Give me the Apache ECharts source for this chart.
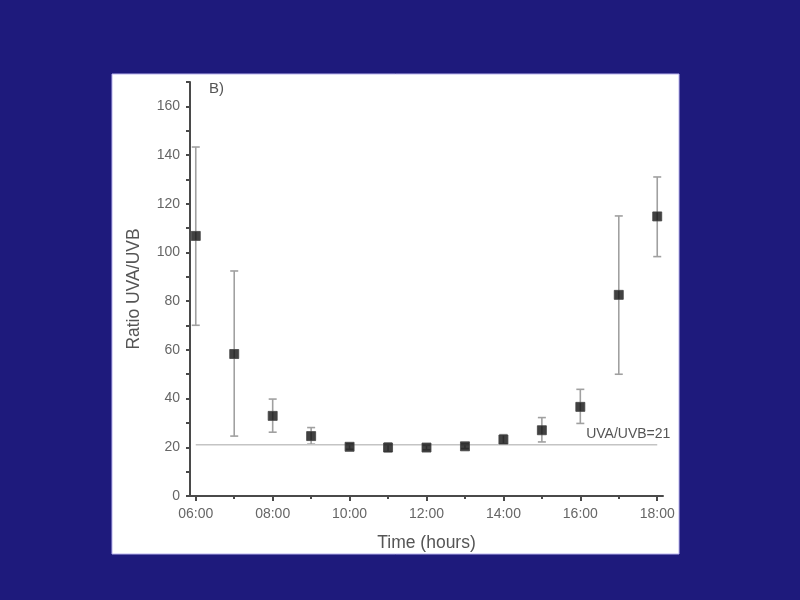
<!DOCTYPE html>
<html>
<head>
<meta charset="utf-8">
<script src="https://cdn.jsdelivr.net/npm/echarts@6/dist/echarts.min.js"></script>
<style>
html,body{margin:0;padding:0;background:#1e1a7c;}
#c{width:800px;height:600px;}
</style>
</head>
<body>
<div id="c"></div>
<script>
// ---- data ----
var hours = [6, 7, 8, 9, 10, 11, 12, 13, 14, 15, 16, 17, 18];
var ratio = [106.8, 58.3, 32.9, 24.6, 20.2, 19.9, 19.9, 20.4, 23.2, 27.0, 36.6, 82.6, 114.8];
var errLow = [70.1, 24.6, 26.2, 21.3, 19.2, 18.2, 19.0, 19.5, 21.4, 22.2, 29.8, 50.0, 98.3];
var errHigh = [143.3, 92.4, 39.8, 28.1, 21.4, 21.8, 20.8, 21.4, 25.2, 32.2, 43.8, 115.0, 131.0];
var xLabelHours = [6, 8, 10, 12, 14, 16, 18];
var xTickLabels = ['06:00', '08:00', '10:00', '12:00', '14:00', '16:00', '18:00'];
var xOddHours = [7, 9, 11, 13, 15, 17];
var yLabelValues = [0, 20, 40, 60, 80, 100, 120, 140, 160];
var yTickValues = [0, 10, 20, 30, 40, 50, 60, 70, 80, 90, 100, 110, 120, 130, 140, 150, 160, 170];
var refRatio = 21;
var refLineX = [6, 18];
var refLabel = 'UVA/UVB=21';

var chart = echarts.init(document.getElementById('c'));
var axisColor = '#4a4a4a';
var labelColor = '#666';
var font = 'Liberation Sans, Arial, sans-serif';

var points = hours.map(function (h, i) { return [h, ratio[i]]; });
var errData = hours.map(function (h, i) { return [h, errLow[i], errHigh[i]]; });
var refData = refLineX.map(function (x) { return [x, refRatio]; });

chart.setOption({
  backgroundColor: '#1e1a7c',
  animation: false,
  graphic: [
    { type: 'rect', shape: { x: 112, y: 74, width: 567, height: 480 },
      style: { fill: '#ffffff', stroke: '#b8b2ee', lineWidth: 1 }, z: -10 },
    { type: 'text', left: 209, top: 81,
      style: { text: 'B)', fill: '#555', font: '15px ' + font } }
  ],
  grid: { left: 190, right: 137, top: 82, bottom: 104 },
  xAxis: [{
    type: 'value', min: 5.85, max: 18.15,
    name: 'Time (hours)', nameLocation: 'middle', nameGap: 38,
    nameTextStyle: { color: '#555', fontSize: 17.5, fontFamily: font },
    axisLine: { show: true, onZero: false, lineStyle: { color: axisColor, width: 2 } },
    axisTick: { show: true, customValues: xLabelHours, length: 5, lineStyle: { color: axisColor, width: 2 } },
    axisLabel: { customValues: xLabelHours, color: labelColor, fontSize: 14, fontFamily: font, margin: 11,
      formatter: function (v) { var i = xLabelHours.indexOf(Math.round(v)); return i >= 0 ? xTickLabels[i] : ''; } },
    splitLine: { show: false }
  }, {
    type: 'value', min: 5.85, max: 18.15, position: 'bottom',
    axisLine: { show: false },
    axisTick: { show: true, customValues: xOddHours, length: 3, lineStyle: { color: axisColor, width: 2 } },
    axisLabel: { show: false },
    splitLine: { show: false }
  }],
  yAxis: {
    type: 'value', min: 0, max: 170,
    name: 'Ratio UVA/UVB', nameLocation: 'middle', nameGap: 47,
    nameTextStyle: { color: '#555', fontSize: 17.5, fontFamily: font },
    axisLine: { show: true, lineStyle: { color: axisColor, width: 2 } },
    axisTick: { show: true, customValues: yTickValues, length: 4, lineStyle: { color: axisColor, width: 2 } },
    axisLabel: { customValues: yLabelValues, color: labelColor, fontSize: 14, fontFamily: font, margin: 10 },
    splitLine: { show: false }
  },
  series: [
    {
      type: 'line', data: refData, symbol: 'none', silent: true,
      lineStyle: { color: '#c4c4c4', width: 1.5 },
      label: { show: false },
      markPoint: {
        symbol: 'circle', symbolSize: 0,
        data: [{ coord: [refLineX[1], refRatio], value: refLabel }],
        label: { show: true, position: 'top', distance: 4, offset: [-29, 0],
          formatter: refLabel, color: '#555', fontSize: 14, fontFamily: font }
      }
    },
    {
      type: 'custom', data: errData, silent: true, z: 3,
      renderItem: function (params, api) {
        var x = api.value(0);
        var lo = api.coord([x, api.value(1)]);
        var hi = api.coord([x, api.value(2)]);
        var cap = 4;
        var st = { stroke: '#a0a0a0', lineWidth: 1.6 };
        return { type: 'group', children: [
          { type: 'line', shape: { x1: lo[0], y1: lo[1], x2: hi[0], y2: hi[1] }, style: st },
          { type: 'line', shape: { x1: lo[0] - cap, y1: lo[1], x2: lo[0] + cap, y2: lo[1] }, style: st },
          { type: 'line', shape: { x1: hi[0] - cap, y1: hi[1], x2: hi[0] + cap, y2: hi[1] }, style: st }
        ]};
      }
    },
    {
      type: 'scatter', data: points, symbol: 'rect', symbolSize: 9, z: 5,
      itemStyle: { color: '#111', borderColor: '#444', borderWidth: 1 }
    }
  ]
});
</script>
</body>
</html>
